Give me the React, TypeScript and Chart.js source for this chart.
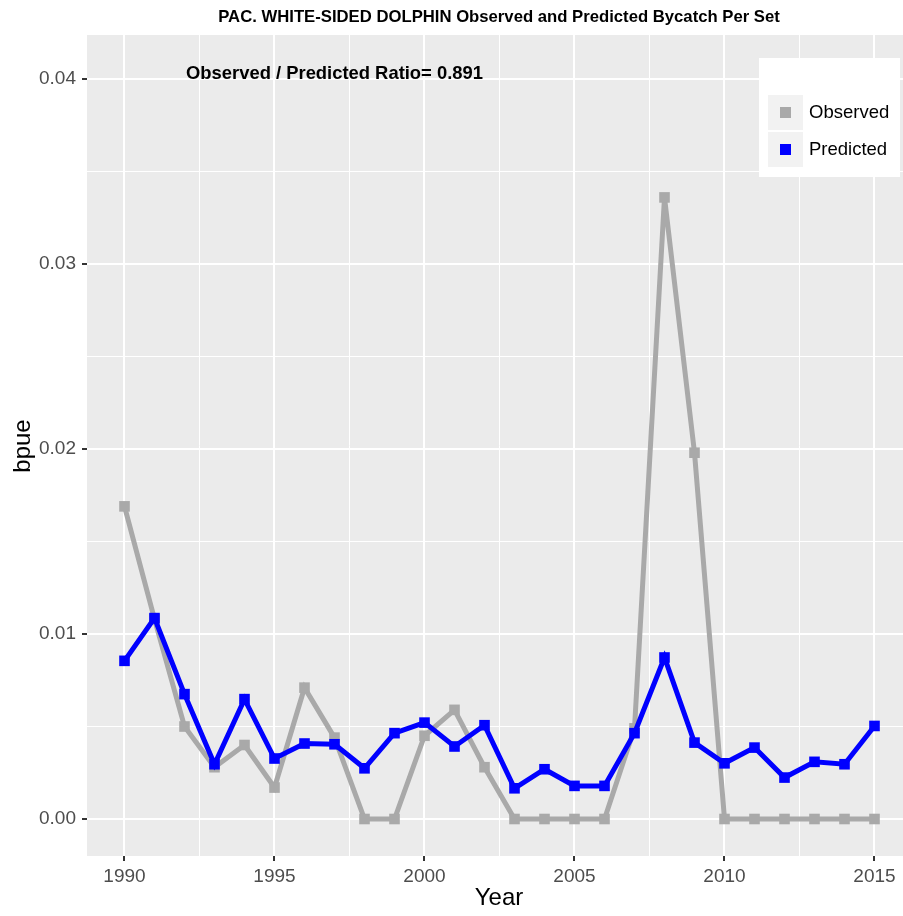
import React, { useEffect, useRef } from 'react';
import { Chart, registerables } from 'chart.js';

Chart.register(...registerables);

const years = [1990, 1991, 1992, 1993, 1994, 1995, 1996, 1997, 1998, 1999, 2000, 2001, 2002, 2003, 2004, 2005, 2006, 2007, 2008, 2009, 2010, 2011, 2012, 2013, 2014, 2015];
const observed = [0.0169, 0.0108, 0.0050, 0.0028, 0.0040, 0.0017, 0.0071, 0.0044, 0, 0, 0.0045, 0.0059, 0.0028, 0, 0, 0, 0, 0.0049, 0.0336, 0.0198, 0, 0, 0, 0, 0, 0];
const predicted = [0.00855, 0.01086, 0.00675, 0.00296, 0.00648, 0.00327, 0.00408, 0.00404, 0.00274, 0.00464, 0.00521, 0.00392, 0.00507, 0.00166, 0.00269, 0.00179, 0.00179, 0.00464, 0.00873, 0.00413, 0.00301, 0.00386, 0.00224, 0.00309, 0.00296, 0.00503];
const yTicks = [0, 0.005, 0.01, 0.015, 0.02, 0.025, 0.03, 0.035, 0.04];
const yMajor = [0, 0.01, 0.02, 0.03, 0.04];
const xTicks = [1990, 1992.5, 1995, 1997.5, 2000, 2002.5, 2005, 2007.5, 2010, 2012.5, 2015];
const xMajor = [1990, 1995, 2000, 2005, 2010, 2015];
const TITLE = 'PAC. WHITE-SIDED DOLPHIN Observed and Predicted Bycatch Per Set';
const RATIO_TEXT = 'Observed / Predicted Ratio= 0.891';
const RATIO_POS = { x: 1997, y: 0.04 };
const X_TITLE = 'Year';
const Y_TITLE = 'bpue';

const FONT = '"Liberation Sans", Arial, sans-serif';

const isMajor = (list: number[], v: number) => list.some((m) => Math.abs(m - v) < 1e-9);

export default function App() {
  const ref = useRef<HTMLCanvasElement | null>(null);

  useEffect(() => {
    document.body.style.margin = '0';
    const canvas = ref.current;
    if (!canvas) return;

    const bgPlugin = {
      id: 'ggbg',
      beforeDraw(chart: any) {
        const { ctx, chartArea } = chart;
        ctx.save();
        ctx.fillStyle = '#FFFFFF';
        ctx.fillRect(0, 0, chart.width, chart.height);
        ctx.fillStyle = '#EBEBEB';
        ctx.fillRect(chartArea.left, chartArea.top, chartArea.right - chartArea.left, chartArea.bottom - chartArea.top);
        ctx.restore();
      },
      afterDraw(chart: any) {
        const { ctx } = chart;
        const xs = chart.scales.x;
        const ys = chart.scales.y;
        ctx.save();
        // title
        ctx.fillStyle = '#000000';
        ctx.textAlign = 'center';
        ctx.textBaseline = 'middle';
        ctx.font = `bold 16.7px ${FONT}`;
        ctx.fillText(TITLE, 499, 17);
        // ratio annotation
        ctx.font = `bold 18.4px ${FONT}`;
        ctx.fillText(RATIO_TEXT, xs.getPixelForValue(RATIO_POS.x), ys.getPixelForValue(RATIO_POS.y) - 5);
        // axis titles
        ctx.font = `24px ${FONT}`;
        ctx.fillText(X_TITLE, 499, 898);
        ctx.save();
        ctx.translate(23, 446);
        ctx.rotate(-Math.PI / 2);
        ctx.fillText(Y_TITLE, 0, 0);
        ctx.restore();
        // legend
        const lx = 759, ly = 58, lw = 141, lh = 119;
        ctx.fillStyle = '#FFFFFF';
        ctx.fillRect(lx, ly, lw, lh);
        chart.data.datasets.forEach((ds: any, i: number) => {
          const ky = 95 + i * 37;
          ctx.fillStyle = '#F2F2F2';
          ctx.fillRect(768, ky, 35, 35);
          ctx.fillStyle = ds.borderColor;
          ctx.fillRect(780, ky + 12, 11, 11);
          ctx.fillStyle = '#000000';
          ctx.textAlign = 'left';
          ctx.font = `18.5px ${FONT}`;
          ctx.fillText(ds.label, 809, ky + 18);
        });
        ctx.restore();
      },
    };

    const chart = new Chart(canvas, {
      type: 'line',
      data: {
        datasets: [
          {
            label: 'Observed',
            data: years.map((y, i) => ({ x: y, y: observed[i] })),
            borderColor: '#A9A9A9',
            backgroundColor: '#A9A9A9',
            borderWidth: 5,
            pointStyle: 'rect',
            pointRadius: 7.5,
            pointBorderWidth: 0,
            tension: 0,
            order: 2,
          },
          {
            label: 'Predicted',
            data: years.map((y, i) => ({ x: y, y: predicted[i] })),
            borderColor: '#0000FF',
            backgroundColor: '#0000FF',
            borderWidth: 5,
            pointStyle: 'rect',
            pointRadius: 7.5,
            pointBorderWidth: 0,
            tension: 0,
            order: 1,
          },
        ],
      },
      options: {
        animation: false,
        responsive: false,
        devicePixelRatio: 1,
        layout: { autoPadding: false, padding: { top: 35, left: 0, right: 0, bottom: 0 } },
        plugins: {
          legend: { display: false },
          title: { display: false },
          tooltip: { enabled: false },
        },
        events: [],
        scales: {
          x: {
            type: 'linear',
            min: 1988.75,
            max: 2015.95,
            afterBuildTicks: (scale: any) => {
              scale.ticks = xTicks.map((v) => ({ value: v }));
            },
            afterFit: (scale: any) => {
              scale.height = 60;
              scale.paddingLeft = 0;
              scale.paddingRight = 0;
            },
            border: { display: false },
            grid: {
              color: '#FFFFFF',
              lineWidth: (c: any) => (isMajor(xMajor, c.tick.value) ? 2 : 1),
              tickColor: (c: any) => (isMajor(xMajor, c.tick.value) ? '#333333' : 'rgba(0,0,0,0)'),
              tickWidth: 2,
              tickLength: 5,
              drawTicks: true,
            },
            ticks: {
              autoSkip: false,
              maxRotation: 0,
              padding: 4,
              color: '#4D4D4D',
              font: { family: FONT, size: 19 },
              callback: (v: any) => (isMajor(xMajor, Number(v)) ? String(v) : ''),
            },
          },
          y: {
            type: 'linear',
            min: -0.002,
            max: 0.04238,
            afterBuildTicks: (scale: any) => {
              scale.ticks = yTicks.map((v) => ({ value: v }));
            },
            afterFit: (scale: any) => {
              scale.width = 87;
              scale.paddingTop = 0;
              scale.paddingBottom = 0;
            },
            border: { display: false },
            grid: {
              color: '#FFFFFF',
              lineWidth: (c: any) => (isMajor(yMajor, c.tick.value) ? 2 : 1),
              tickColor: (c: any) => (isMajor(yMajor, c.tick.value) ? '#333333' : 'rgba(0,0,0,0)'),
              tickWidth: 2,
              tickLength: 5,
              drawTicks: true,
            },
            ticks: {
              autoSkip: false,
              padding: 6,
              color: '#4D4D4D',
              font: { family: FONT, size: 19 },
              callback: (v: any) => (isMajor(yMajor, Number(v)) ? Number(v).toFixed(2) : ''),
            },
          },
        },
      },
      plugins: [bgPlugin],
    } as any);

    return () => chart.destroy();
  }, []);

  return <canvas ref={ref} width={903} height={916} style={{ display: 'block', width: 903, height: 916 }} />;
}
